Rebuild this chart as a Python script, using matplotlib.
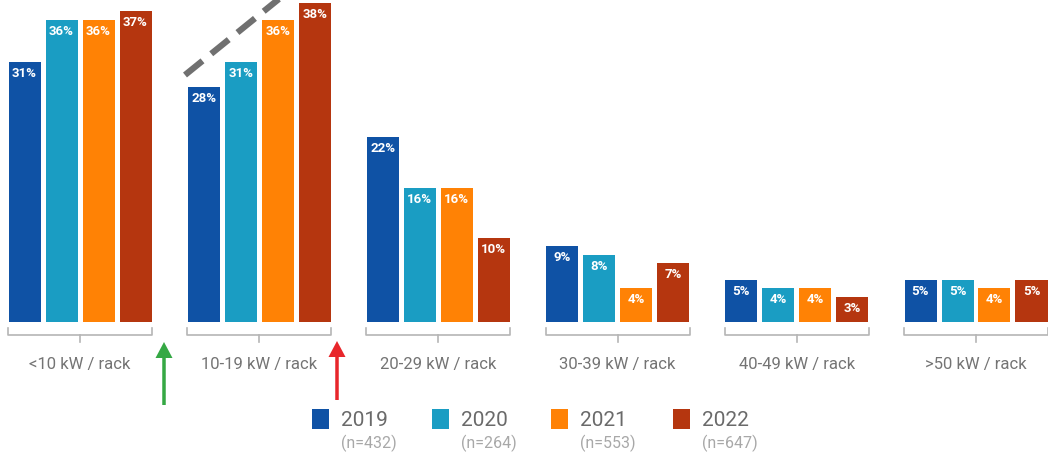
import matplotlib
matplotlib.use("Agg")
import matplotlib.pyplot as plt
from matplotlib.patches import Rectangle, FancyArrow

categories = ["<10 kW / rack", "10-19 kW / rack", "20-29 kW / rack",
              "30-39 kW / rack", "40-49 kW / rack", ">50 kW / rack"]
years = ["2019", "2020", "2021", "2022"]
sample_sizes = ["(n=432)", "(n=264)", "(n=553)", "(n=647)"]
v2019 = [31, 28, 22, 9, 5, 5]
v2020 = [36, 31, 16, 8, 4, 5]
v2021 = [36, 36, 16, 4, 4, 4]
v2022 = [37, 38, 10, 7, 3, 5]
series = [v2019, v2020, v2021, v2022]
colors = ["#0f52a5", "#1a9dc3", "#ff8205", "#b5360f"]

FONT = ["Roboto", "DejaVu Sans"]
plt.rcParams["font.family"] = FONT

W, H = 1048, 455
fig = plt.figure(figsize=(W / 100, H / 100), dpi=100)

def fy(py):
    return 1 - py / H

base_px = 322
px_per_pct = 8.4
ax = fig.add_axes([0, fy(base_px), 1, base_px / H])
ax.set_ylim(0, base_px / px_per_pct)
c0, step = 80.0, 179.2
ax.set_xlim(-c0 / step, (W - c0) / step)
ax.axis("off")

bw = 32 / step
bstep = 37 / step
for k, (vals, col) in enumerate(zip(series, colors)):
    off = (k - 1.5) * bstep
    for i, v in enumerate(vals):
        x = i + off
        ax.bar(x, v, width=bw, color=col, linewidth=0)
        ax.text(x, v - 0.6, f"{v}%", color="white", ha="center", va="top",
                fontsize=9.5, fontweight="bold", clip_on=False)

ax2 = fig.add_axes([0, 0, 1, 1])
ax2.set_xlim(0, W)
ax2.set_ylim(H, 0)
ax2.axis("off")
gray = "#b5b5b5"
for i, cat in enumerate(categories):
    cx = c0 + step * i
    left = cx - 72
    right = cx + 72
    ax2.plot([left, left, right, right], [328, 335, 335, 328], color=gray, lw=1.2)
    ax2.plot([cx, cx], [335, 342], color=gray, lw=1.2)
    ax2.text(cx, 365, cat, ha="center", va="center", fontsize=12, color="#747474")

# arrows
ax2.add_patch(FancyArrow(164, 405, 0, -63, width=3.5, head_width=17, head_length=16,
                         length_includes_head=True, color="#35a844", linewidth=0))
ax2.add_patch(FancyArrow(337, 400, 0, -59, width=3.5, head_width=17, head_length=16,
                         length_includes_head=True, color="#e8262b", linewidth=0))

# dashed trend line
ax2.plot([185, 290], [75, -10], color="#707070", lw=4.5, linestyle=(0, (3.6, 1.8)),
         solid_capstyle="butt", dash_capstyle="butt", clip_on=True)

# legend
sq_x = [312, 432, 551, 673]
for i in range(4):
    ax2.add_patch(Rectangle((sq_x[i], 409), 17, 20, color=colors[i], linewidth=0))
    ax2.text(sq_x[i] + 29, 420, years[i], ha="left", va="center", fontsize=15,
             color="#6a6a6a")
    ax2.text(sq_x[i] + 29, 443, sample_sizes[i], ha="left", va="center", fontsize=11.5,
             color="#a8a8a8")

fig.savefig("out.png", dpi=100)
